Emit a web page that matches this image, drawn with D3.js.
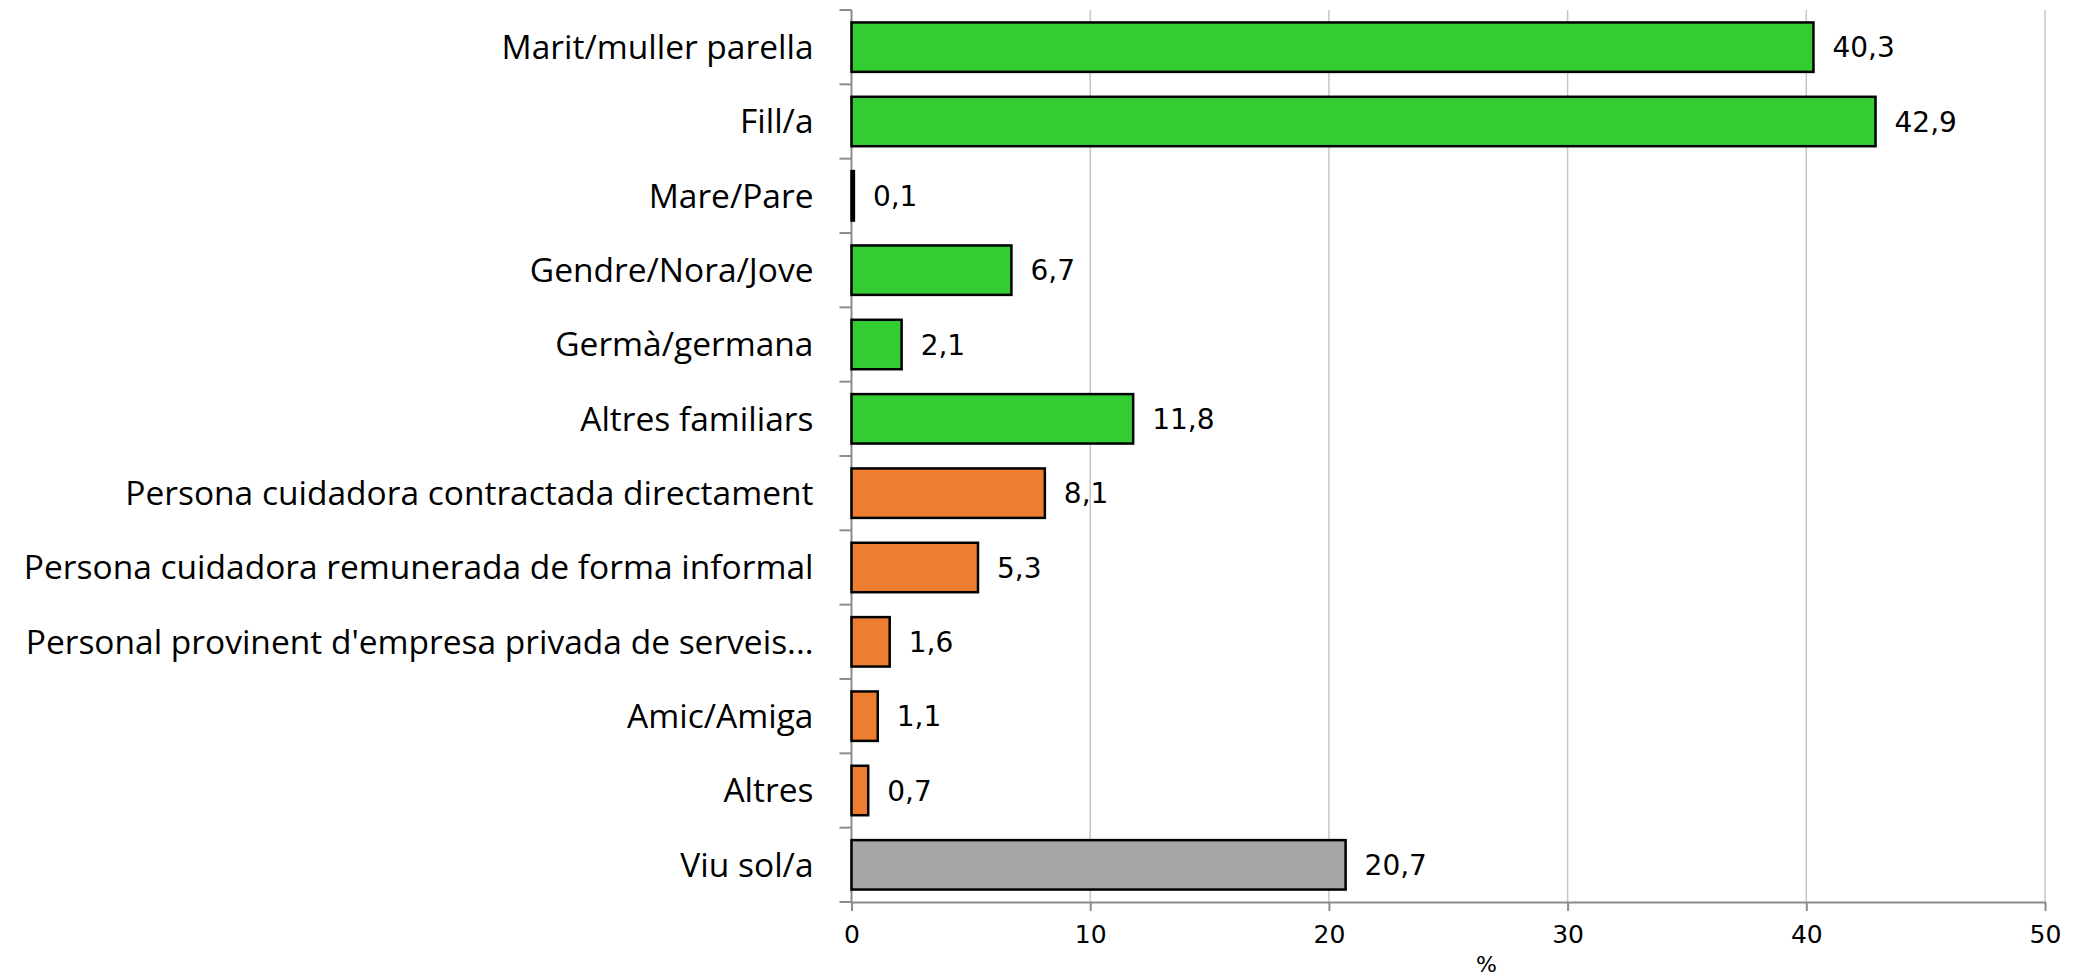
<!DOCTYPE html>
<html>
<head>
<meta charset="utf-8">
<script src="https://cdn.jsdelivr.net/npm/d3@7"></script>
<style>
  body { margin: 0; background: #fff; }
  svg { display: block; }
</style>
</head>
<body>
<figure id="chart" style="margin:0"></figure>
<script>
const categories = [
  'Marit/muller parella',
  'Fill/a',
  'Mare/Pare',
  'Gendre/Nora/Jove',
  'Germà/germana',
  'Altres familiars',
  'Persona cuidadora contractada directament',
  'Persona cuidadora remunerada de forma informal',
  "Personal provinent d'empresa privada de serveis...",
  'Amic/Amiga',
  'Altres',
  'Viu sol/a'
];
const values = [40.3, 42.9, 0.1, 6.7, 2.1, 11.8, 8.1, 5.3, 1.6, 1.1, 0.7, 20.7];
const groups = ['fam', 'fam', 'fam', 'fam', 'fam', 'fam', 'paid', 'paid', 'paid', 'paid', 'paid', 'alone'];
const xTicks = [0, 10, 20, 30, 40, 50];
const axisTitle = '%';

const width = 2078;
const height = 980;
const margin = {top: 10, right: 33, bottom: 78, left: 851.5};

const colors = {fam: '#33cc33', paid: '#ed7d31', alone: '#a6a6a6'};

const svg = d3.select('#chart')
  .append('svg')
  .attr('width', width)
  .attr('height', height)
  .attr('viewBox', `0 0 ${width} ${height}`);

const x = d3.scaleLinear()
  .domain([0, 50])
  .range([margin.left, width - margin.right]);

const y = d3.scaleBand()
  .domain(categories)
  .range([margin.top, height - margin.bottom])
  .paddingInner(0.335)
  .paddingOuter(0.1675);

const plotBottom = height - margin.bottom;

// vertical gridlines
svg.append('g')
  .selectAll('line')
  .data(xTicks.filter(d => d > 0))
  .enter().append('line')
  .attr('x1', d => x(d))
  .attr('x2', d => x(d))
  .attr('y1', margin.top)
  .attr('y2', plotBottom)
  .attr('stroke', '#c6c6c6')
  .attr('stroke-width', 1.5);

// x axis
const xAxis = svg.append('g')
  .attr('transform', `translate(0,${plotBottom})`)
  .call(d3.axisBottom(x).tickValues(xTicks).tickSize(9).tickSizeOuter(0).tickPadding(14));
xAxis.select('.domain').attr('stroke', '#8c8c8c').attr('stroke-width', 2);
xAxis.selectAll('.tick line').attr('stroke', '#8c8c8c').attr('stroke-width', 2);
xAxis.selectAll('.tick text')
  .attr('font-family', 'DejaVu Sans')
  .attr('font-size', 25)
  .attr('fill', '#000');

// y axis line and ticks between categories
const step = y.step();
const boundaries = d3.range(categories.length + 1).map(i => y(categories[0]) - step * y.paddingOuter() + i * step);
svg.append('line')
  .attr('x1', x(0)).attr('x2', x(0))
  .attr('y1', margin.top).attr('y2', plotBottom)
  .attr('stroke', '#8c8c8c').attr('stroke-width', 2);
svg.append('g')
  .selectAll('line')
  .data(boundaries)
  .enter().append('line')
  .attr('x1', x(0) - 12)
  .attr('x2', x(0))
  .attr('y1', d => d)
  .attr('y2', d => d)
  .attr('stroke', '#8c8c8c')
  .attr('stroke-width', 2);

// category labels
svg.append('g')
  .selectAll('text')
  .data(categories)
  .enter().append('text')
  .attr('x', x(0) - 38)
  .attr('y', d => y(d) + y.bandwidth() / 2)
  .attr('dy', '0.35em')
  .attr('text-anchor', 'end')
  .attr('font-family', 'Open Sans')
  .attr('font-size', 33.5)
  .attr('fill', '#000')
  .text(d => d);

// bars
svg.append('g')
  .selectAll('rect')
  .data(values)
  .enter().append('rect')
  .attr('x', x(0))
  .attr('y', (d, i) => y(categories[i]))
  .attr('width', d => x(d) - x(0))
  .attr('height', y.bandwidth())
  .attr('fill', (d, i) => colors[groups[i]])
  .attr('stroke', '#000')
  .attr('stroke-width', 2.5);

// value labels
svg.append('g')
  .selectAll('text')
  .data(values)
  .enter().append('text')
  .attr('x', d => x(d) + 19)
  .attr('y', (d, i) => y(categories[i]) + y.bandwidth() / 2)
  .attr('dy', '0.36em')
  .attr('font-family', 'DejaVu Sans')
  .attr('font-size', 28)
  .attr('fill', '#000')
  .text(d => d3.format('.1f')(d).replace('.', ','));

// axis title
svg.append('text')
  .attr('x', x(26.6))
  .attr('y', 964)
  .attr('dy', '0.35em')
  .attr('text-anchor', 'middle')
  .attr('font-family', 'DejaVu Sans')
  .attr('font-size', 22)
  .attr('fill', '#000')
  .text(axisTitle);
</script>
</body>
</html>
